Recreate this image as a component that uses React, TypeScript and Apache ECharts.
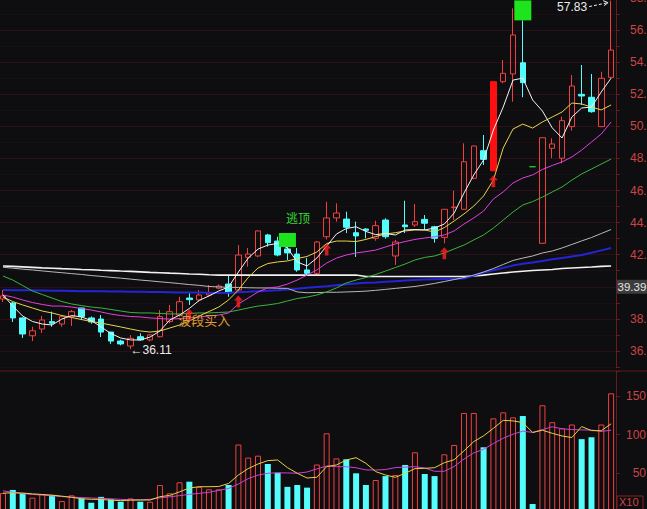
import React, { useEffect, useRef } from 'react';
import * as echarts from 'echarts';

// ---- daily candles (open, close, low, high) ----
const opens = [39.24, 38.99, 38.06, 36.95, 37.37, 37.83, 37.68, 38.14, 38.68, 38.06, 37.99, 37.18, 36.62, 36.31, 36.89, 36.69, 36.89, 37.83, 38.24, 39.30, 39.18, 39.49, 39.91, 40.17, 39.80, 41.84, 41.92, 43.23, 42.85, 42.36, 42.04, 41.05, 40.84, 43.12, 44.29, 44.22, 43.37, 43.60, 43.02, 44.16, 41.92, 43.85, 43.85, 44.20, 43.74, 43.08, 44.93, 44.83, 46.76, 48.48, 47.23, 52.78, 53.26, 53.96, 47.48, 42.71, 48.63, 48.01, 49.98, 51.99, 51.81, 49.98, 53.05];
const closes = [39.43, 38.06, 37.06, 37.26, 37.93, 37.73, 38.14, 38.45, 38.14, 37.81, 37.18, 36.62, 36.44, 36.79, 36.69, 37.00, 38.14, 38.45, 39.07, 39.20, 39.49, 39.60, 40.05, 39.63, 41.98, 42.04, 43.48, 42.75, 41.98, 42.11, 41.05, 40.84, 42.79, 44.29, 44.60, 43.71, 43.17, 43.52, 43.81, 43.12, 42.79, 43.74, 44.06, 43.96, 43.02, 44.83, 44.97, 47.79, 48.77, 47.94, 52.78, 53.30, 55.69, 52.72, 47.48, 49.29, 48.90, 50.35, 52.51, 51.89, 50.91, 52.99, 54.75];
const lows = [39.05, 37.81, 36.81, 36.62, 37.12, 37.51, 37.51, 37.56, 37.93, 37.70, 36.87, 36.44, 36.35, 36.11, 36.64, 36.60, 36.85, 37.73, 38.14, 38.87, 39.07, 39.38, 39.85, 39.38, 39.70, 41.25, 41.85, 42.50, 41.90, 41.67, 40.94, 40.73, 40.73, 42.95, 44.06, 43.35, 41.86, 43.02, 42.87, 43.00, 41.36, 43.35, 43.73, 43.54, 42.75, 42.71, 44.16, 44.80, 46.70, 47.59, 47.20, 52.68, 51.53, 51.81, 47.48, 42.70, 48.01, 47.69, 49.73, 51.33, 50.85, 49.95, 53.00];
const highs = [39.80, 39.05, 38.10, 37.51, 38.18, 38.45, 38.24, 38.55, 38.70, 38.15, 38.24, 37.20, 36.70, 36.99, 37.10, 37.05, 38.55, 38.87, 39.38, 39.60, 39.80, 40.11, 40.15, 40.73, 42.60, 42.42, 43.50, 43.30, 43.12, 42.48, 42.42, 41.79, 42.85, 45.30, 45.20, 44.68, 44.06, 43.65, 44.12, 44.27, 42.92, 45.36, 45.16, 44.47, 43.80, 44.85, 45.99, 48.94, 48.80, 49.46, 52.80, 54.13, 57.35, 56.60, 47.48, 49.30, 49.25, 50.60, 53.20, 53.82, 53.26, 53.40, 57.83];

// ---- volume (x10) ----
const volumes = [24, 28, 24, 18, 22.7, 21.4, 13.6, 21, 17, 11.4, 19, 15.8, 12.7, 17, 12.7, 12.7, 34.4, 23.6, 37.9, 38.7, 32, 28.8, 28.8, 34.4, 87, 70, 72.5, 61.7, 50.4, 32, 34.4, 31, 61, 101.6, 69, 67.8, 49.6, 34.4, 40.9, 46, 47.4, 60.4, 76.9, 48.7, 46, 74.3, 86.4, 128, 128, 83.4, 121, 128.8, 122.3, 124, 9.7, 138, 116, 108, 113, 94, 96.4, 113, 153.5];
const volMa5 = [23.8, 24.3, 24, 22.9, 22.1, 21.3, 19.9, 18.4, 16.6, 15.8, 15.7, 14.7, 14.2, 14.7, 14.9, 14.9, 19.2, 20.9, 25.5, 30.5, 32.2, 32.2, 32.5, 36.4, 47.4, 55.7, 61.7, 66.1, 66.9, 57, 49.7, 43.5, 44.5, 58.3, 60.5, 66.9, 69.9, 62.6, 51.8, 47.4, 44.4, 49.6, 55.7, 56.1, 56.9, 63.4, 67.3, 78.8, 90.8, 98.3, 108.1, 118.4, 117.7, 115.5, 102.6, 105.6, 101.6, 98.1, 96.1, 110.3, 105.1, 104.9, 113.9];
const volMa10 = [26.8, 24.9, 23.2, 22.2, 21.2, 20.4, 19.4, 18.7, 18.1, 17.5, 17.1, 16.5, 15.8, 15.3, 15.2, 15.8, 17.7, 19.1, 20.6, 22.3, 23.6, 24.9, 27.5, 29.9, 35.7, 42.7, 47.3, 49.7, 50.3, 50.1, 49.7, 51.3, 55.3, 59.1, 58.3, 58.2, 56.8, 54, 53.9, 54.5, 57, 57.7, 58.2, 56.5, 52.2, 52.3, 58.4, 68.2, 76.1, 80.8, 88.3, 95.2, 100.4, 104.4, 102.7, 106.4, 110, 107.5, 106.4, 106, 105.8, 104, 105.6];

// ---- moving averages on price ----
const ma5 = [39.49, 38.8, 38.18, 37.84, 37.68, 37.62, 37.99, 38.21, 38.12, 37.9, 37.5, 37.09, 36.81, 36.69, 36.69, 36.87, 37.25, 37.93, 38.24, 38.65, 39.15, 39.43, 39.74, 39.99, 40.92, 41.79, 42.35, 42.6, 42.7, 42.42, 41.55, 41.3, 41.79, 42.54, 43.29, 43.63, 43.74, 43.45, 43.25, 43.32, 43.23, 43.54, 43.57, 43.54, 43.66, 43.91, 44.6, 45.84, 46.97, 47.9, 49.77, 51.2, 52.88, 53.0, 51.64, 50.95, 49.9, 49.27, 50.58, 51.14, 51.2, 52.14, 53.0];
const ma10 = [39.36, 39.08, 38.87, 38.68, 38.49, 38.37, 38.21, 38.09, 37.96, 37.84, 37.74, 37.62, 37.5, 37.37, 37.25, 37.18, 37.25, 37.43, 37.62, 37.87, 38.18, 38.46, 38.74, 39.18, 39.8, 40.58, 41.17, 41.45, 41.55, 41.61, 41.76, 41.89, 42.17, 42.7, 42.85, 42.85, 42.82, 42.95, 43.13, 43.29, 43.37, 43.48, 43.54, 43.54, 43.41, 43.69, 44.1, 44.54, 45.03, 45.66, 46.65, 48.65, 49.83, 50.14, 49.89, 50.27, 50.58, 50.89, 51.45, 51.39, 51.2, 51.02, 51.33];
const ma20 = [39.49, 39.36, 39.18, 39.02, 38.9, 38.8, 38.8, 38.74, 38.65, 38.55, 38.43, 38.3, 38.21, 38.15, 38.12, 38.06, 38.02, 37.99, 38.02, 38.06, 38.12, 38.18, 38.24, 38.37, 38.93, 39.3, 39.68, 39.93, 39.99, 40.17, 40.42, 40.73, 41.05, 41.48, 41.79, 41.98, 42.11, 42.19, 42.29, 42.48, 42.67, 42.82, 42.95, 43.04, 43.12, 43.23, 43.48, 43.91, 44.29, 44.72, 45.47, 45.91, 46.47, 46.78, 46.97, 47.31, 47.56, 47.78, 48.09, 48.52, 49.02, 49.52, 50.27];
const ma30 = [40.67, 40.42, 40.08, 39.74, 39.52, 39.3, 39.08, 38.93, 38.83, 38.74, 38.68, 38.59, 38.49, 38.4, 38.37, 38.37, 38.34, 38.31, 38.31, 38.34, 38.37, 38.37, 38.4, 38.43, 38.55, 38.68, 38.8, 38.87, 38.96, 39.12, 39.27, 39.36, 39.49, 39.68, 39.93, 40.24, 40.42, 40.58, 40.77, 40.98, 41.2, 41.42, 41.67, 41.83, 41.92, 42.11, 42.36, 42.6, 42.92, 43.23, 43.66, 44.16, 44.66, 45.1, 45.31, 45.59, 45.91, 46.22, 46.65, 47.03, 47.34, 47.65, 47.96];
const ma60 = [41.22, 41.16, 41.1, 41.05, 40.99, 40.93, 40.88, 40.82, 40.77, 40.7, 40.65, 40.59, 40.54, 40.48, 40.42, 40.37, 40.31, 40.26, 40.2, 40.14, 40.09, 40.02, 39.99, 39.97, 39.96, 39.94, 39.93, 39.93, 39.91, 39.9, 39.68, 39.63, 39.64, 39.66, 39.66, 39.68, 39.7, 39.73, 39.78, 39.84, 39.9, 39.96, 40.02, 40.11, 40.21, 40.33, 40.45, 40.58, 40.73, 40.92, 41.14, 41.39, 41.64, 41.79, 41.92, 42.11, 42.23, 42.42, 42.64, 42.86, 43.07, 43.32, 43.57];
const ma120 = [39.8, 39.79, 39.78, 39.78, 39.77, 39.76, 39.75, 39.74, 39.73, 39.73, 39.72, 39.71, 39.7, 39.69, 39.69, 39.68, 39.67, 39.66, 39.65, 39.65, 39.64, 39.63, 39.62, 39.63, 39.66, 39.69, 39.73, 39.75, 39.78, 39.83, 39.88, 39.94, 39.99, 40.04, 40.1, 40.16, 40.21, 40.25, 40.27, 40.31, 40.35, 40.39, 40.42, 40.45, 40.47, 40.49, 40.5, 40.52, 40.7, 40.89, 41.03, 41.18, 41.33, 41.43, 41.52, 41.61, 41.71, 41.8, 41.89, 41.98, 42.12, 42.27, 42.42];
const ma250 = [41.3, 41.27, 41.24, 41.21, 41.18, 41.16, 41.13, 41.11, 41.08, 41.06, 41.03, 41.01, 40.98, 40.96, 40.93, 40.9, 40.88, 40.85, 40.83, 40.8, 40.78, 40.75, 40.73, 40.73, 40.73, 40.73, 40.73, 40.73, 40.73, 40.73, 40.73, 40.73, 40.73, 40.73, 40.73, 40.73, 40.73, 40.64, 40.64, 40.64, 40.64, 40.64, 40.64, 40.64, 40.64, 40.64, 40.64, 40.64, 40.67, 40.73, 40.8, 40.86, 40.92, 40.97, 41.02, 41.05, 41.08, 41.14, 41.17, 41.2, 41.23, 41.27, 41.3];

// ---- signals / labels ----
const buyArrowIdx = [19, 24, 33, 45, 50];
const sellBoxIdx = [29, 53];
const sellBoxHeights = [14, 20];
const solidCandleIdx = 50;
const flatCandleIdx = 54;
const highIdx = 62;
const lowIdx = 13;
const buyTextIdx = 19;
const sellText = '逃顶';
const buyText = '波段买入';
const markedPrice = 40;
const markedPriceLabel = '39.39';
const priceTickLabels = [36, 38, 42, 44, 46, 48, 50, 52, 54, 56, 58];
const volTickLabels = [50, 100, 150];
const volUnit = 'X10';

const BG = '#0e0e10';
const RED = '#ee4040';
const CYAN = '#54fcfc';
const AXIS = '#6a1c1c';
const LABEL = '#cc4444';
const NUMFONT = '"Liberation Sans", Arial, sans-serif';
const CJKFONT = '"Noto Sans CJK SC", sans-serif';

export default function App() {
  const ref = useRef<HTMLDivElement>(null);
  useEffect(() => {
    if (!ref.current) return;
    const chart = echarts.init(ref.current, null, { renderer: 'svg' });
    const cats = opens.map((_, i) => String(i + 1));
    const line = (data: number[], color: string, width = 1, xi = 0) => ({
      type: 'line', xAxisIndex: xi, yAxisIndex: xi, data, symbol: 'none', showSymbol: false,
      lineStyle: { color, width }, silent: true, z: 3,
    });
    const option: any = {
      backgroundColor: BG,
      animation: false,
      grid: [
        { left: -1.9, width: 617.9, top: -2.1, height: 369.15, containLabel: false, outerBoundsMode: 'none' },
        { left: -1.9, width: 617.9, top: 371, height: 140.5, containLabel: false, outerBoundsMode: 'none' },
      ],
      xAxis: [
        { type: 'category', data: cats, gridIndex: 0, show: false, boundaryGap: true },
        { type: 'category', data: cats, gridIndex: 1, show: false, boundaryGap: true },
      ],
      yAxis: [
        {
          type: 'value', gridIndex: 0, position: 'right', min: 35, max: 58, interval: 1,
          axisLine: { show: true, lineStyle: { color: AXIS } },
          axisTick: { show: true, length: 4, lineStyle: { color: AXIS } },
          axisLabel: {
            margin: 14, color: LABEL, fontSize: 12, fontFamily: NUMFONT, align: 'left',
            // the right edge of the window shows only the integer part and the point
            formatter: (v: number) =>
              priceTickLabels.some((t) => Math.abs(t - v) < 1e-6) ? String(Math.round(v)) + '.' : '',
          },
          splitLine: { show: true, lineStyle: { color: ['#1a0f12', '#2a1117'], width: 1 } },
        },
        {
          type: 'value', gridIndex: 1, position: 'right', min: 0, max: 182.5, interval: 50,
          axisLine: { show: true, lineStyle: { color: AXIS } },
          axisTick: { show: true, length: 4, lineStyle: { color: AXIS } },
          axisLabel: {
            margin: 30, align: 'right', color: LABEL, fontSize: 12, fontFamily: NUMFONT,
            formatter: (v: number) => (volTickLabels.includes(v) ? String(v) : ''),
          },
          splitLine: { show: false },
        },
      ],
      series: [
        line(ma250, '#f2f2f2', 1.6),
        line(ma120, '#2424d8', 2),
        line(ma60, '#b8b8b8', 1),
        {
          type: 'candlestick', xAxisIndex: 0, yAxisIndex: 0, barWidth: 6, silent: true, z: 2,
          itemStyle: { color: 'transparent', color0: CYAN, borderColor: RED, borderColor0: CYAN, borderWidth: 1 },
          data: opens.map((o, i) => {
            const item: any = { value: [o, closes[i], lows[i], highs[i]] };
            if (i === solidCandleIdx) item.itemStyle = { color: '#ff1010', color0: '#ff1010', borderColor: '#ff1010', borderColor0: '#ff1010' };
            if (i === flatCandleIdx) item.itemStyle = { color: '#22cc22', color0: '#22cc22', borderColor: '#22cc22', borderColor0: '#22cc22' };
            return item;
          }),
        },
        line(ma30, '#3cb43c', 1),
        line(ma20, '#e040e0', 1),
        line(ma10, '#e8d44c', 1),
        line(ma5, '#f4f4f4', 1),
        {
          type: 'scatter', xAxisIndex: 0, yAxisIndex: 0, silent: true, z: 6,
          symbol: 'path://M5,0L10,5L7,5L7,12L3,12L3,5L0,5Z', symbolSize: [9, 12], symbolOffset: [0, 10],
          itemStyle: { color: '#ff2020' },
          data: buyArrowIdx.map((i) => [i, lows[i]]),
        },
        {
          type: 'scatter', xAxisIndex: 0, yAxisIndex: 0, silent: true, z: 6, symbol: 'rect',
          itemStyle: { color: '#1ee41e', opacity: 1 },
          data: sellBoxIdx.map((i, k) => ({
            value: [i, highs[i]], symbolSize: [17, sellBoxHeights[k]], symbolOffset: [0, -sellBoxHeights[k] / 2],
          })),
        },
        {
          type: 'bar', xAxisIndex: 1, yAxisIndex: 1, barWidth: 6, silent: true,
          data: volumes.map((v, i) => ({
            value: v,
            itemStyle: closes[i] > opens[i]
              ? { color: 'transparent', borderColor: RED, borderWidth: 1 }
              : { color: CYAN },
          })),
        },
        line(volMa10, '#d040d0', 1, 1),
        line(volMa5, '#e8d040', 1, 1),
      ],
    };
    chart.setOption(option);

    const px = (i: number, v: number) => chart.convertToPixel({ gridIndex: 0 }, [i, v]) as number[];
    const pHigh = px(highIdx, highs[highIdx]);
    const pLow = px(lowIdx, lows[lowIdx]);
    const pBox = px(sellBoxIdx[0], highs[sellBoxIdx[0]]);
    const pBuy = px(buyTextIdx, lows[buyTextIdx]);
    const pMark = px(0, markedPrice);
    const axisX = 616;
    const tipX = pHigh[0] - 3;
    const tipY = pHigh[1] + 2;
    chart.setOption({
      graphic: [
        { type: 'line', shape: { x1: 0, y1: 371, x2: 647, y2: 371 }, style: { stroke: '#5c1818', lineWidth: 1 }, silent: true },
        { type: 'rect', silent: true, z: 10, shape: { x: axisX + 1, y: pMark[1] - 7, width: 31, height: 14 }, style: { fill: '#3c3c3c' } },
        {
          type: 'text', x: axisX + 1.5, y: pMark[1], silent: true, z: 11,
          style: { text: markedPriceLabel, fill: '#e6e6e6', font: '11.5px ' + NUMFONT, align: 'left', verticalAlign: 'middle', textAlign: 'left', textVerticalAlign: 'middle' },
        },
        {
          type: 'text', x: pHigh[0] - 24, y: pHigh[1] + 6, silent: true, z: 10,
          style: { text: highs[highIdx].toFixed(2), fill: '#ececec', font: '12px ' + NUMFONT, align: 'right', verticalAlign: 'middle', textAlign: 'right', textVerticalAlign: 'middle' },
        },
        { type: 'polyline', silent: true, z: 10, shape: { points: [[pHigh[0] - 22, pHigh[1] + 6], [tipX, tipY]] }, style: { stroke: '#ececec', lineWidth: 1, lineDash: [3, 2], fill: null } },
        { type: 'polyline', silent: true, z: 10, shape: { points: [[tipX - 5, tipY - 2], [tipX, tipY], [tipX - 4, tipY + 3]] }, style: { stroke: '#ececec', lineWidth: 1, fill: null } },
        {
          type: 'text', x: pLow[0], y: pLow[1] + 1, silent: true, z: 10,
          style: { text: '←' + lows[lowIdx].toFixed(2), fill: '#ececec', font: '12px ' + NUMFONT, align: 'left', verticalAlign: 'middle', textAlign: 'left', textVerticalAlign: 'middle' },
        },
        {
          type: 'text', x: pBox[0] + 10.5, y: pBox[1] - 29, silent: true, z: 10,
          style: { text: sellText, fill: '#34d834', font: '12px ' + CJKFONT, align: 'center', verticalAlign: 'middle', textAlign: 'center', textVerticalAlign: 'middle' },
        },
        {
          type: 'text', x: pBuy[0] - 11, y: pBuy[1] + 15, silent: true, z: 10,
          style: { text: buyText, fill: '#e39a2e', font: '13px ' + CJKFONT, align: 'left', verticalAlign: 'middle', textAlign: 'left', textVerticalAlign: 'middle' },
        },
        { type: 'rect', silent: true, z: 10, shape: { x: 617, y: 496, width: 26, height: 14 }, style: { stroke: '#8a2020', fill: null, lineWidth: 1 } },
        {
          type: 'text', x: 619, y: 502, silent: true, z: 10,
          style: { text: volUnit, fill: LABEL, font: '11px ' + NUMFONT, align: 'left', verticalAlign: 'middle', textAlign: 'left', textVerticalAlign: 'middle' },
        },
      ],
    });
    return () => chart.dispose();
  }, []);
  return (
    <div
      ref={ref}
      style={{ position: 'fixed', left: 0, top: 0, width: 647, height: 509, background: BG }}
    />
  );
}
